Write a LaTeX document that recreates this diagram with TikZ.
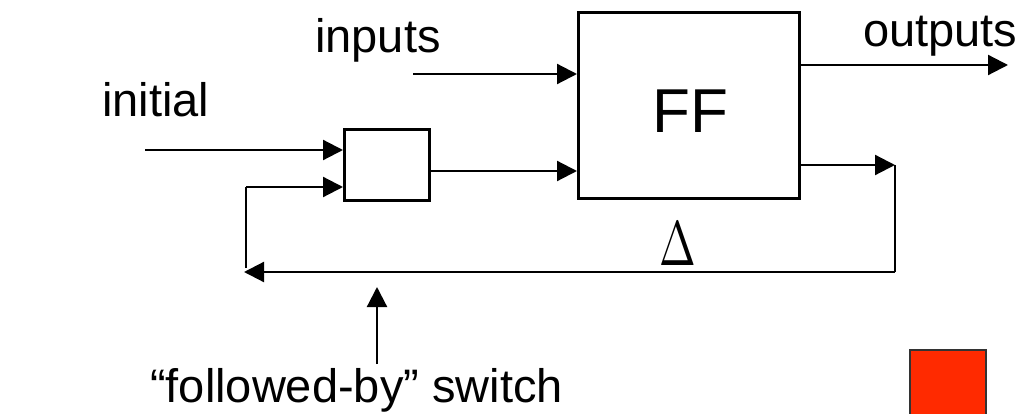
\documentclass[tikz,border=0pt]{standalone}
\usepackage{fontspec}
\setmainfont{Liberation Sans}
\usepackage{graphicx}
\usetikzlibrary{arrows.meta}
\definecolor{redsq}{RGB}{255,42,0}
\begin{document}
\begin{tikzpicture}[x=1pt,y=-1pt,
  arr/.style={line width=2.2pt,-{Triangle[length=20pt,width=20pt]}},
  wire/.style={line width=2.2pt},
  blk/.style={draw,line width=2.6pt,inner sep=0pt,anchor=north west},
  lbl/.style={anchor=base west,inner sep=0pt,font=\fontsize{47}{56}\selectfont}]
\useasboundingbox (0,0) rectangle (1025,414);
% boxes
\node[blk,minimum width=85pt,minimum height=71pt] (sw) at (343,128) {};
\node[blk,minimum width=221pt,minimum height=186pt] (ff) at (577,11) {};
\node[lbl,font=\fontsize{62}{70}\selectfont] (fft) at (652,133) {FF};
% labels
\node[lbl] (tinit) at (102,117) {initial};
\node[lbl] (tin) at (315,53) {inputs};
\node[lbl] (tout) at (863,47) {outputs};
\node[lbl,font=\normalsize] (tdelta) at (659,265) {\scalebox{4.4}[6.3]{$\Delta$}};
\node[lbl] (tsw) at (150,402) {“followed-by” switch};
% coordinates
\coordinate (i0) at (145,150);
\coordinate (in0) at (413,74);
\coordinate (o1) at (1008,65);
\coordinate (o2) at (895,165);
\coordinate (br) at (895,272);
\coordinate (bl) at (244,272);
\coordinate (lb) at (246,268);
\coordinate (lt) at (246,187);
\coordinate (s0) at (377,364);
\coordinate (s1) at (377,287);
% connectors
\draw[arr] (i0) -- (sw.west |- i0);
\draw[wire] (lb) -- (lt);
\draw[arr] (lt) -- (sw.west |- lt);
\draw[arr] (sw.east |- 0,171) -- (ff.west |- 0,171);
\draw[arr] (in0) -- (ff.west |- in0);
\draw[arr] (ff.east |- o1) -- (o1);
\draw[arr] (ff.east |- o2) -- (o2);
\draw[wire] (o2) -- (br);
\draw[arr] (br) -- (bl);
\draw[arr] (s0) -- (s1);
% red square
\node[draw=black!80,line width=2.4pt,fill=redsq,minimum width=76pt,minimum height=76pt,inner sep=0pt,anchor=north west] (red) at (909,349) {};
\end{tikzpicture}
\end{document}
